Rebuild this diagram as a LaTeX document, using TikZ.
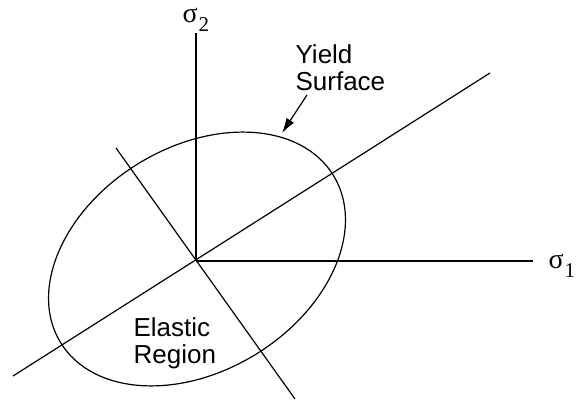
\documentclass[tikz,border=0pt]{standalone}
\usepackage{fontspec}
\setmainfont{Liberation Sans}
\newfontfamily\sigmafont{Liberation Serif}
\usetikzlibrary{arrows.meta}
\begin{document}
\begin{tikzpicture}[x=1pt,y=-1pt,line width=1.2pt]
\tikzset{
  lbl/.style={font=\fontsize{26}{27}\selectfont, align=left, inner sep=0pt, anchor=north west},
  sig/.style={font=\sigmafont\fontsize{28}{28}\selectfont, inner sep=0pt, anchor=base west},
  pointer/.style={-{Latex[length=15pt,width=9pt]}}
}
\useasboundingbox (0,0) rectangle (577,401);
\coordinate (O) at (196,261);
\coordinate (X1) at (533,261);
\coordinate (X2) at (196,33);
\coordinate (D1) at (13,376);
\coordinate (D2) at (490,73);
\coordinate (P1) at (116,148);
\coordinate (P2) at (295,399);
\coordinate (C) at (197,259);
\draw (O) -- (X1);
\draw (O) -- (X2);
\draw (D1) -- (D2);
\draw (P1) -- (P2);
\draw[rotate around={31.5:(C)}] (C) ellipse [x radius=160, y radius=112];
\node[lbl] (ys) at (295,44) {Yield\\Surface};
\node[lbl] (er) at (133,317) {Elastic\\Region};
\coordinate (As) at (307,95);
\coordinate (At) at (282,133);
\draw[pointer] (As) -- (At);
\node[sig] (s2) at (182,23) {σ\kern1pt\raisebox{-9pt}{\fontsize{21}{21}\selectfont 2}};
\node[sig] (s1) at (548,268) {σ\kern1pt\raisebox{-9pt}{\fontsize{21}{21}\selectfont 1}};
\end{tikzpicture}
\end{document}
